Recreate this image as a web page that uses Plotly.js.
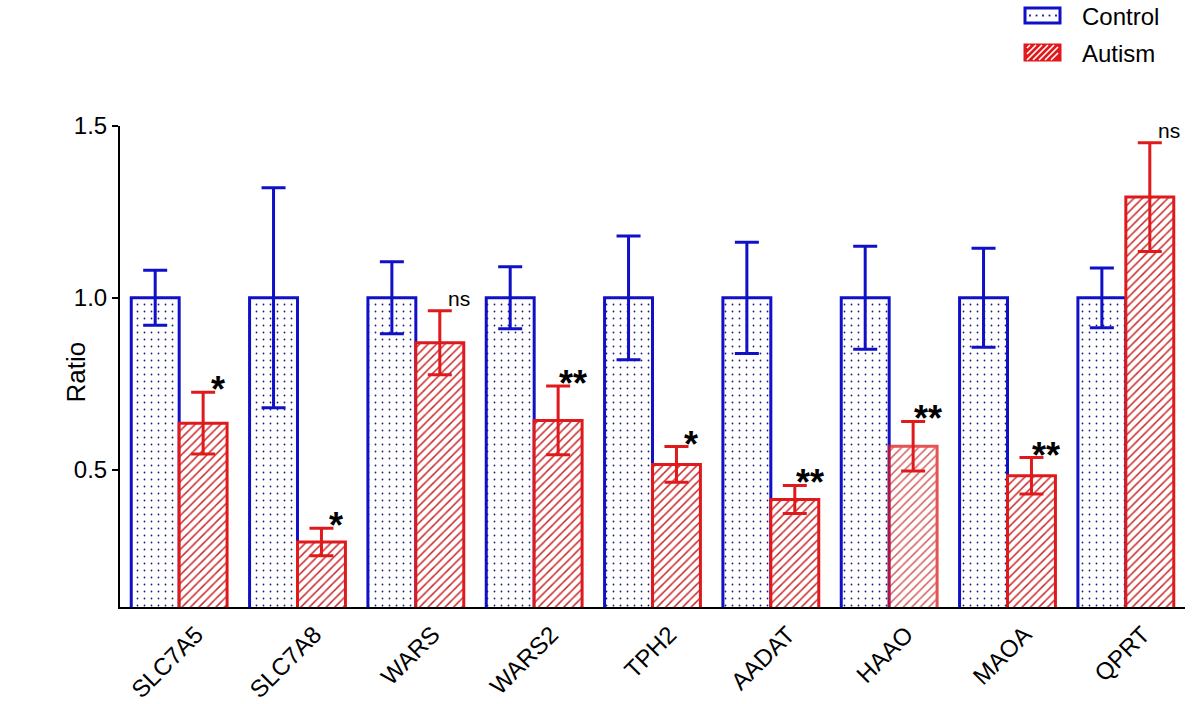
<!DOCTYPE html>
<html>
<head>
<meta charset="utf-8">
<script src="https://cdn.plot.ly/plotly-3.0.1.min.js"></script>
<style>html,body{margin:0;padding:0;background:#fff;}#chart{width:1200px;height:704px;}</style>
</head>
<body>
<div id="chart"></div>
<script>
const genes = ["SLC7A5","SLC7A8","WARS","WARS2","TPH2","AADAT","HAAO","MAOA","QPRT"];
const controlValues = [1,1,1,1,1,1,1,1,1];
const controlErrors = [0.08,0.32,0.105,0.09,0.18,0.162,0.15,0.144,0.087];
const autismValues = [0.635,0.289,0.869,0.643,0.515,0.413,0.568,0.482,1.293];
const autismErrors = [0.09,0.04,0.093,0.1,0.052,0.041,0.072,0.053,0.158];
const significance = ["*","*","ns","**","*","**","**","**","ns"];
const autismOpacity = [1,1,1,1,1,1,0.75,1,1];
const legendNames = ["Control","Autism"];
const yTitle = "Ratio";

const blue = "#1010c8";
const red = "#e0191c";

const control = {
  type: "bar", name: legendNames[0], x: genes, y: controlValues, showlegend: false,
  marker: {color: "white", line: {color: blue, width: 3},
    pattern: {shape: ".", fgcolor: "#1a1a80", bgcolor: "white", size: 7, solidity: 0.05}},
  error_y: {type: "data", array: controlErrors, visible: true, color: blue, thickness: 3, width: 12}
};
const autism = {
  type: "bar", name: legendNames[1], x: genes, y: autismValues, showlegend: false,
  marker: {color: "white", opacity: autismOpacity, line: {color: red, width: 3},
    pattern: {shape: "/", fgcolor: "#c8282a", bgcolor: "white", size: 6, solidity: 0.25}},
  error_y: {type: "data", array: autismErrors, visible: true, color: red, thickness: 3, width: 12}
};

const annotations = genes.map((g, i) => {
  const isNs = significance[i] === "ns";
  return {
    x: i + 0.2, y: autismValues[i] + autismErrors[i], xref: "x", yref: "y",
    text: significance[i], showarrow: false,
    xanchor: "center", yanchor: "bottom",
    xshift: isNs ? 19 : 15, yshift: isNs ? -1 : -20,
    font: {family: "Arial, Liberation Sans, sans-serif", size: isNs ? 21 : 36, color: "black",
           weight: isNs ? "normal" : "bold"}
  };
});

// custom legend (pixel offsets from the plot's top-right corner)
const shapes = [];
function pxShape(o) {
  return Object.assign({xref: "paper", yref: "paper", xanchor: 1, yanchor: 1,
    xsizemode: "pixel", ysizemode: "pixel", layer: "above"}, o);
}
shapes.push(pxShape({type: "rect", x0: -160, x1: -125, y0: 103, y1: 118,
  line: {color: blue, width: 3}, fillcolor: "white"}));
for (let k = 0; k < 5; k++) {
  const cx = -155 + k * 6.5;
  shapes.push(pxShape({type: "rect", x0: cx - 0.9, x1: cx + 0.9, y0: 109.6, y1: 111.4,
    line: {width: 0}, fillcolor: "#1a1a80"}));
}
shapes.push(pxShape({type: "rect", x0: -160, x1: -125, y0: 66, y1: 81,
  line: {color: red, width: 3}, fillcolor: red}));
for (let c = -170; c < -125; c += 6) {
  let xa = c, ya = 66, xb = c + 15, yb = 81;
  if (xa < -158) { ya += (-158 - xa); xa = -158; }
  if (xb > -127) { yb -= (xb + 127); xb = -127; }
  if (xb > xa + 1) shapes.push(pxShape({type: "line", x0: xa, x1: xb, y0: ya, y1: yb,
    line: {color: "white", width: 1.6}}));
}
annotations.push({xref: "paper", yref: "paper", x: 1, y: 1, xshift: -105, yshift: 110,
  xanchor: "left", yanchor: "middle", showarrow: false, text: legendNames[0], font: {size: 24, color: "black"}});
annotations.push({xref: "paper", yref: "paper", x: 1, y: 1, xshift: -105, yshift: 73,
  xanchor: "left", yanchor: "middle", showarrow: false, text: legendNames[1], font: {size: 24, color: "black"}});
annotations.push({xref: "paper", yref: "paper", x: 0, y: 0.5, xshift: -45, yshift: -6,
  xanchor: "center", yanchor: "middle", showarrow: false, textangle: -90, text: yTitle,
  font: {size: 26, color: "black"}});

const layout = {
  width: 1200, height: 704,
  margin: {l: 120, r: 15, t: 126, b: 97},
  paper_bgcolor: "white", plot_bgcolor: "white",
  font: {family: "Arial, Liberation Sans, sans-serif", color: "black", size: 24},
  barmode: "group", bargap: 0.19, bargroupgap: 0.0,
  showlegend: false,
  xaxis: {type: "category", range: [-0.5, 8.5], showline: true, linecolor: "black", linewidth: 2,
    ticks: "", tickangle: -45, tickfont: {size: 24}, ticklabelshift: 17, ticklabelstandoff: 2,
    automargin: false, fixedrange: true},
  yaxis: {range: [0.1, 1.5], tickvals: [0.5, 1.0, 1.5], ticktext: ["0.5","1.0","1.5"],
    showline: true, linecolor: "black", linewidth: 2, ticks: "outside", ticklen: 6, tickwidth: 2,
    tickcolor: "black", showgrid: false, zeroline: false, tickfont: {size: 24}, automargin: false},
  shapes: shapes,
  annotations: annotations
};

Plotly.newPlot("chart", [control, autism], layout, {displayModeBar: false, staticPlot: true});
</script>
</body>
</html>
